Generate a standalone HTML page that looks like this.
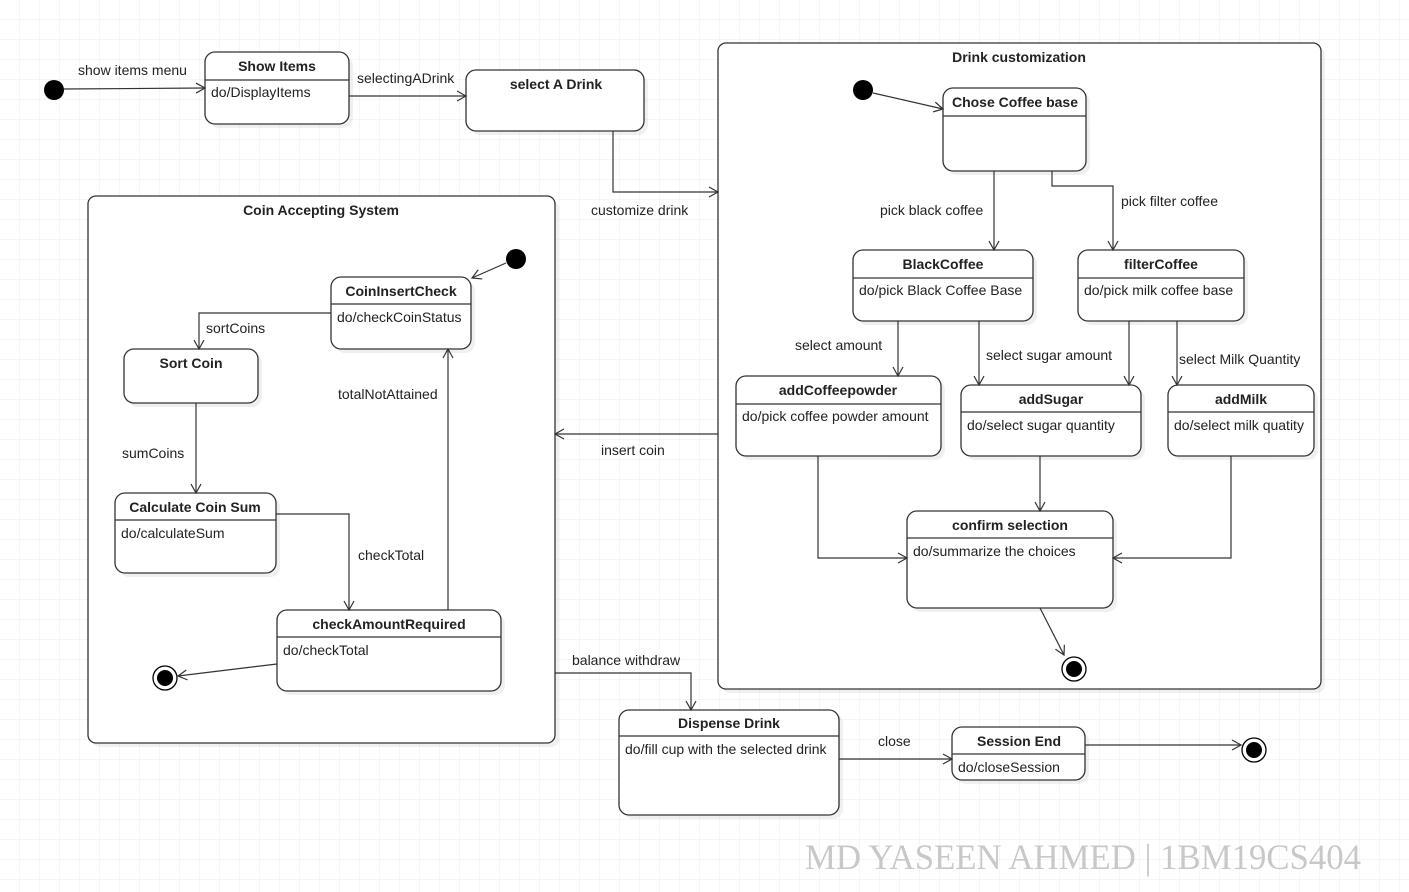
<!DOCTYPE html>
<html><head><meta charset="utf-8"><style>
html,body{margin:0;padding:0;background:#fff}
svg{display:block}
text{font-family:"Liberation Sans",Arial,sans-serif;font-size:14px;fill:#222}
.t{font-weight:bold;text-anchor:middle}
.b{fill:#fff;stroke:#333;stroke-width:1.3}
.s{fill:#000;opacity:.06}
.l{fill:none;stroke:#333;stroke-width:1.2}
</style></head><body>
<svg width="1409" height="892" viewBox="0 0 1409 892" xmlns="http://www.w3.org/2000/svg">
<defs>
<pattern id="g" width="20" height="20" patternUnits="userSpaceOnUse"><path d="M20 0V20M0 20H20" fill="none" stroke="#ececec" stroke-width="1"/></pattern>
<marker id="a" markerWidth="12" markerHeight="12" refX="10" refY="6" orient="auto" markerUnits="userSpaceOnUse"><path d="M1 1L10 6L1 11" fill="none" stroke="#333" stroke-width="1.2"/></marker>
</defs>
<rect width="1409" height="892" fill="url(#g)"/>

<rect class="s" x="92" y="200" width="467" height="547" rx="8"/>
<rect class="b" x="88" y="196" width="467" height="547" rx="8"/>
<text class="t" x="321" y="215">Coin Accepting System</text>
<rect class="s" x="722" y="47" width="603" height="646" rx="8"/>
<rect class="b" x="718" y="43" width="603" height="646" rx="8"/>
<text class="t" x="1019" y="62">Drink customization</text>

<g class="s">
<rect x="209" y="56" width="144" height="72" rx="10"/>
<rect x="470" y="74" width="178" height="61" rx="10"/>
<rect x="947" y="92" width="143" height="83" rx="10"/>
<rect x="857" y="254" width="180" height="71" rx="10"/>
<rect x="1082" y="254" width="166" height="71" rx="10"/>
<rect x="740" y="380" width="205" height="80" rx="10"/>
<rect x="965" y="389" width="180" height="71" rx="10"/>
<rect x="1172" y="389" width="146" height="71" rx="10"/>
<rect x="911" y="515" width="206" height="97" rx="10"/>
<rect x="335" y="281" width="140" height="72" rx="10"/>
<rect x="128" y="353" width="134" height="54" rx="10"/>
<rect x="119" y="497" width="161" height="80" rx="10"/>
<rect x="281" y="614" width="224" height="81" rx="10"/>
<rect x="623" y="714" width="220" height="105" rx="10"/>
<rect x="956" y="731" width="133" height="53" rx="10"/>
</g>

<circle cx="54" cy="90" r="10" fill="#000"/>
<circle cx="863" cy="90" r="10" fill="#000"/>
<circle cx="516" cy="259" r="10" fill="#000"/>
<g fill="none" stroke="#000" stroke-width="1.3">
<circle cx="1074" cy="669" r="12" fill="#fff"/><circle cx="165" cy="678" r="12" fill="#fff"/><circle cx="1254" cy="750" r="12" fill="#fff"/>
</g>
<circle cx="1074" cy="669" r="8" fill="#000"/><circle cx="165" cy="678" r="8" fill="#000"/><circle cx="1254" cy="750" r="8" fill="#000"/>

<rect class="b" x="205" y="52" width="144" height="72" rx="10"/><path class="l" d="M205 80H349"/>
<text class="t" x="277" y="71">Show Items</text><text x="211" y="97">do/DisplayItems</text>

<rect class="b" x="466" y="70" width="178" height="61" rx="10"/>
<text class="t" x="556" y="89">select A Drink</text>

<rect class="b" x="943" y="88" width="143" height="83" rx="10"/><path class="l" d="M943 116H1086"/>
<text class="t" x="1015" y="107">Chose Coffee base</text>

<rect class="b" x="853" y="250" width="180" height="71" rx="10"/><path class="l" d="M853 278H1033"/>
<text class="t" x="943" y="269">BlackCoffee</text><text x="859" y="295">do/pick Black Coffee Base</text>

<rect class="b" x="1078" y="250" width="166" height="71" rx="10"/><path class="l" d="M1078 278H1244"/>
<text class="t" x="1161" y="269">filterCoffee</text><text x="1084" y="295">do/pick milk coffee base</text>

<rect class="b" x="736" y="376" width="205" height="80" rx="10"/><path class="l" d="M736 404H941"/>
<text class="t" x="838" y="395">addCoffeepowder</text><text x="742" y="421">do/pick coffee powder amount</text>

<rect class="b" x="961" y="385" width="180" height="71" rx="10"/><path class="l" d="M961 412H1141"/>
<text class="t" x="1051" y="404">addSugar</text><text x="967" y="430">do/select sugar quantity</text>

<rect class="b" x="1168" y="385" width="146" height="71" rx="10"/><path class="l" d="M1168 412H1314"/>
<text class="t" x="1241" y="404">addMilk</text><text x="1174" y="430">do/select milk quatity</text>

<rect class="b" x="907" y="511" width="206" height="97" rx="10"/><path class="l" d="M907 538H1113"/>
<text class="t" x="1010" y="530">confirm selection</text><text x="913" y="556">do/summarize the choices</text>

<rect class="b" x="331" y="277" width="140" height="72" rx="10"/><path class="l" d="M331 304H471"/>
<text class="t" x="401" y="296">CoinInsertCheck</text><text x="337" y="322">do/checkCoinStatus</text>

<rect class="b" x="124" y="349" width="134" height="54" rx="10"/>
<text class="t" x="191" y="368">Sort Coin</text>

<rect class="b" x="115" y="493" width="161" height="80" rx="10"/><path class="l" d="M115 520H276"/>
<text class="t" x="195" y="512">Calculate Coin Sum</text><text x="121" y="538">do/calculateSum</text>

<rect class="b" x="277" y="610" width="224" height="81" rx="10"/><path class="l" d="M277 637H501"/>
<text class="t" x="389" y="629">checkAmountRequired</text><text x="283" y="655">do/checkTotal</text>

<rect class="b" x="619" y="710" width="220" height="105" rx="10"/><path class="l" d="M619 736H839"/>
<text class="t" x="729" y="728">Dispense Drink</text><text x="625" y="754">do/fill cup with the selected drink</text>

<rect class="b" x="952" y="727" width="133" height="53" rx="10"/><path class="l" d="M952 754H1085"/>
<text class="t" x="1019" y="746">Session End</text><text x="958" y="772">do/closeSession</text>

<g class="l" marker-end="url(#a)">
<path d="M64 89L205 88"/>
<path d="M349 96H466"/>
<path d="M613 131V192H718"/>
<path d="M873 93L943 109"/>
<path d="M994 171V250"/>
<path d="M1052 171V186H1113V250"/>
<path d="M898 321V376"/>
<path d="M979 321V385"/>
<path d="M1129 321V385"/>
<path d="M1177 321V385"/>
<path d="M818 456V558H907"/>
<path d="M1040 456V511"/>
<path d="M1231 456V558H1113"/>
<path d="M1040 608L1064 655"/>
<path d="M718 434H555"/>
<path d="M506 263L472 278"/>
<path d="M331 313H199V349"/>
<path d="M196 403V493"/>
<path d="M276 514H349V610"/>
<path d="M448 610V349"/>
<path d="M277 664L178 676"/>
<path d="M555 673H691V710"/>
<path d="M839 759H952"/>
<path d="M1085 745H1241"/>
</g>

<text x="78" y="75">show items menu</text>
<text x="357" y="83">selectingADrink</text>
<text x="591" y="215">customize drink</text>
<text x="880" y="215">pick black coffee</text>
<text x="1121" y="206">pick filter coffee</text>
<text x="795" y="350">select amount</text>
<text x="986" y="360">select sugar amount</text>
<text x="1179" y="364">select Milk Quantity</text>
<text x="601" y="455">insert coin</text>
<text x="206" y="333">sortCoins</text>
<text x="122" y="458">sumCoins</text>
<text x="338" y="399">totalNotAttained</text>
<text x="358" y="560">checkTotal</text>
<text x="572" y="665">balance withdraw</text>
<text x="878" y="746">close</text>
<text x="805" y="869" textLength="556" lengthAdjust="spacingAndGlyphs" style="font-family:'Liberation Serif',serif;font-size:36px;fill:#c8c8c8">MD YASEEN AHMED | 1BM19CS404</text>
</svg>
</body></html>
